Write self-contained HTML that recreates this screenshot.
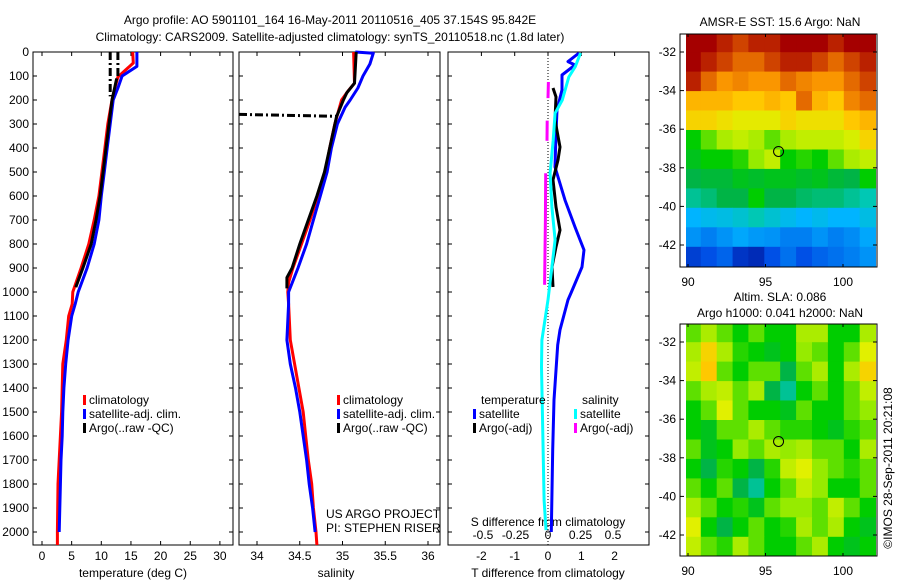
<!DOCTYPE html>
<html><head><meta charset="utf-8">
<style>
html,body{margin:0;padding:0;background:#fff;}
svg{display:block;font-family:"Liberation Sans",sans-serif;}
text{font-size:12px;fill:#000;}
</style></head>
<body>
<svg id="fig" width="900" height="580" viewBox="0 0 900 580" xmlns="http://www.w3.org/2000/svg">
<text x="330" y="24" text-anchor="middle">Argo profile: AO 5901101_164 16-May-2011 20110516_405 37.154S 95.842E</text>
<text x="330" y="41" text-anchor="middle">Climatology: CARS2009. Satellite-adjusted climatology: synTS_20110518.nc (1.8d later)</text>
<g id="g"></g>
</svg>
<script>
// ---------- data ----------
const depthTicks=[0,100,200,300,400,500,600,700,800,900,1000,1100,1200,1300,1400,1500,1600,1700,1800,1900,2000];
const tempTicks=[0,5,10,15,20,25,30];
const salTicks=[34,34.5,35,35.5,36];
const salTickLabels=["34","34.5","35","35.5","36"];
const tdTicks=[-2,-1,0,1,2];
const sdTicks=[-0.5,-0.25,0,0.25,0.5];
const sdTickLabels=["-0.5","-0.25","0","0.25","0.5"];

const tClimDepth=[0,46,104,150,200,300,400,500,600,700,800,900,1000,1050,1100,1200,1300,1400,1500,1600,1700,1800,2000,2054];
const tClimVal=[15.3,15.4,12.8,12.3,11.8,11.1,10.6,10.1,9.6,8.8,7.9,6.6,5.2,5.1,4.5,4.1,3.5,3.4,3.3,3.1,2.9,2.7,2.6,2.6];
const tSatDepth=[0,60,100,150,200,300,400,500,600,700,800,900,1000,1050,1100,1200,1300,1400,1500,1600,1700,1800,2000];
const tSatVal=[16.0,16.0,13.5,12.8,12.0,11.5,11.0,10.5,10.0,9.6,8.8,7.6,6.1,5.6,5.0,4.4,4.0,3.7,3.5,3.4,3.2,3.1,2.9];
const tArgoDepth=[110,200,300,400,500,600,700,800,900,980];
const tArgoVal=[12.6,11.8,11.3,10.8,10.3,9.8,9.1,8.3,6.9,5.7];
const tRawADepth=[0,185];const tRawAVal=[11.5,11.5];
const tRawBDepth=[0,100];const tRawBVal=[12.8,12.8];

const sClimDepth=[0,130,160,200,250,300,400,500,600,700,800,900,960,1000,1050,1200,1300,1400,1500,1600,1700,1800,1900,2000,2054];
const sClimVal=[35.13,35.14,35.07,34.99,34.95,34.91,34.85,34.80,34.71,34.62,34.52,34.42,34.37,34.36,34.37,34.39,34.44,34.49,34.54,34.57,34.60,34.64,34.66,34.69,34.70];
const sSatDepth=[0,5,50,100,150,200,230,300,400,500,600,700,800,900,1000,1050,1200,1300,1400,1500,1600,1700,1800,1900,2000];
const sSatVal=[35.15,35.36,35.32,35.24,35.18,35.09,35.03,34.94,34.87,34.82,34.74,34.66,34.58,34.48,34.37,34.37,34.35,34.39,34.45,34.50,34.54,34.58,34.61,34.65,34.68];
const sArgoDepth=[0,130,170,200,270,400,500,600,700,800,900,940,985];
const sArgoVal=[35.16,35.14,35.05,35.01,34.93,34.85,34.79,34.70,34.60,34.50,34.41,34.35,34.35];
const sRawDepth=[260,268];const sRawVal=[33.79,34.93];

const dTSatDepth=[4,40,54,96,158,242,338,479,617,729,825,896,1004,1033,1158,1221,1450,1658,2000];
const dTSatVal=[0.93,0.6,0.81,0.42,0.42,0.27,0.24,0.21,0.51,0.81,1.08,1.02,0.69,0.6,0.36,0.29,0.18,0.14,0.1];
const dTArgoDepth=[150,187,283,396,450,533,646,742,812,896,979];
const dTArgoVal=[0.15,0.24,0.21,0.36,0.3,0.15,0.24,0.36,0.24,0.12,0.15];
const dSSatDepth=[4,61,104,200,255,367,505,646,783,896,1033,1200,1313,1588,1867,1992];
const dSSatVal=[0.25,0.21,0.16,0.11,0.055,0.04,0.016,0.03,0.055,0.03,0,-0.047,-0.05,-0.04,-0.03,-0.015];
const dSArgoDepth=[125,192,null,286,370,null,505,700,970];
const dSArgoVal=[0.003,0.0,null,-0.006,-0.008,null,-0.018,-0.02,-0.026];

const lonTicks=[90,95,100];
const latTicks=[-32,-34,-36,-38,-40,-42];
const sstGrid=[
[1,1,.95,.9,.95,.95,1,1,1,.95,1,1],
[1,.95,.9,.85,.85,.9,.95,.95,.9,.85,.9,.95],
[.95,.85,.8,.82,.8,.8,.85,.82,.8,.8,.85,.9],
[.75,.75,.75,.72,.72,.75,.72,.85,.75,.72,.82,.85],
[.7,.7,.68,.66,.66,.66,.7,.68,.68,.68,.72,.75],
[.5,.55,.6,.62,.6,.55,.6,.62,.62,.62,.64,.7],
[.48,.5,.5,.52,.58,.62,.5,.52,.5,.55,.6,.62],
[.45,.46,.46,.48,.47,.48,.48,.47,.48,.46,.45,.5],
[.4,.42,.45,.45,.5,.45,.45,.43,.42,.42,.4,.38],
[.3,.32,.33,.35,.38,.35,.32,.3,.32,.3,.3,.33],
[.25,.22,.25,.28,.26,.25,.22,.22,.25,.22,.24,.28],
[.12,.15,.18,.1,.08,.15,.2,.15,.18,.2,.22,.25]];
const slaGrid=[
[.55,.6,.55,.5,.55,.5,.5,.6,.6,.5,.5,.6],
[.6,.7,.6,.52,.5,.48,.5,.58,.55,.5,.55,.65],
[.62,.72,.55,.5,.55,.55,.45,.55,.6,.5,.6,.7],
[.55,.6,.62,.55,.6,.45,.4,.5,.55,.5,.55,.62],
[.5,.55,.65,.55,.5,.5,.48,.55,.5,.5,.55,.58],
[.5,.48,.55,.55,.6,.55,.52,.52,.5,.48,.52,.55],
[.55,.48,.5,.58,.55,.6,.58,.6,.55,.55,.5,.6],
[.5,.45,.52,.5,.45,.52,.62,.65,.58,.55,.52,.55],
[.55,.5,.55,.45,.4,.5,.55,.62,.58,.5,.5,.55],
[.6,.55,.5,.52,.48,.55,.58,.58,.55,.62,.55,.5],
[.65,.5,.45,.5,.55,.5,.52,.6,.55,.6,.5,.48],
[.62,.55,.52,.6,.55,.5,.5,.55,.6,.5,.48,.5]];
const floatLon=95.842, floatLat=-37.154;

// ---------- helpers ----------
const NS="http://www.w3.org/2000/svg";
const G=document.getElementById('g');
function mk(tag,attrs,parent){const e=document.createElementNS(NS,tag);for(const k in attrs)e.setAttribute(k,attrs[k]);(parent||G).appendChild(e);return e;}
function txt(x,y,s,anchor,name,size){const t=mk('text',{x:x,y:y,'text-anchor':anchor||'start'});if(size)t.style.fontSize=size+'px';t.textContent=s;


return t;}
const T=52,B=545;
const yD=d=>T+d*0.24;
const xT=v=>42+v*5.93;
const xS=v=>257+(v-34)*85.5;
const xDT=v=>548+v*33.3;
const xDS=v=>548+v*130;

function frame(x0,x1,name){const r=mk('rect',{x:x0,y:T,width:x1-x0,height:B-T,fill:'#fff',stroke:'#000','stroke-width':1});


depthTicks.forEach(d=>{mk('line',{x1:x0,x2:x0+4,y1:yD(d),y2:yD(d),stroke:'#000'});mk('line',{x1:x1-4,x2:x1,y1:yD(d),y2:yD(d),stroke:'#000'});});}
function xticks(vals,labels,fx,name,top,bottom,ly){vals.forEach((v,i)=>{const x=fx(v);
if(top)mk('line',{x1:x,x2:x,y1:T,y2:T+4,stroke:'#000'});
if(bottom)mk('line',{x1:x,x2:x,y1:B-4,y2:B,stroke:'#000'});
txt(x,ly,labels[i],'middle',name);});}
function line(depths,vals,fx,color,w,name,dash){let d='';let pen=false;
for(let i=0;i<depths.length;i++){if(depths[i]===null){pen=false;continue;}d+=(pen?'L':'M')+fx(vals[i]).toFixed(1)+' '+yD(depths[i]).toFixed(1);pen=true;}
const p=mk('path',{d:d,fill:'none',stroke:color,'stroke-width':w,'stroke-linejoin':'round'});if(dash)p.setAttribute('stroke-dasharray',dash);


return p;}
function legend(x,y,color,label,name){mk('rect',{x:x,y:y-9,width:3,height:10,fill:color});txt(x+6,y,label,'start',name);}

// ---------- panel 1: temperature ----------
frame(33,233,'temperature-panel');
depthTicks.forEach(d=>txt(29,yD(d)+4,String(d),'end','depth-tick-label'));
xticks(tempTicks,tempTicks.map(String),xT,'temperature-tick-label',true,true,560);
txt(133,577,'temperature (deg C)','middle','temperature-axis-title');
line(tClimDepth,tClimVal,xT,'#f00',3,'temperature-climatology-line');
line(tSatDepth,tSatVal,xT,'#00f',3,'temperature-satellite-line');
line(tArgoDepth,tArgoVal,xT,'#000',3,'temperature-argo-line');
line(tRawADepth,tRawAVal,xT,'#000',3,'temperature-argo-raw-line-a','8 3 2 3');
line(tRawBDepth,tRawBVal,xT,'#000',3,'temperature-argo-raw-line-b','8 3 2 3');
legend(83,404,'#f00','climatology','legend-climatology');
legend(83,418,'#00f','satellite-adj. clim.','legend-satellite');
legend(83,432,'#000','Argo(..raw -QC)','legend-argo');

// ---------- panel 2: salinity ----------
frame(239,440,'salinity-panel');
xticks(salTicks,salTickLabels,xS,'salinity-tick-label',true,true,560);
txt(336,577,'salinity','middle','salinity-axis-title');
line(sClimDepth,sClimVal,xS,'#f00',3,'salinity-climatology-line');
line(sSatDepth,sSatVal,xS,'#00f',3,'salinity-satellite-line');
line(sArgoDepth,sArgoVal,xS,'#000',3,'salinity-argo-line');
line(sRawDepth,sRawVal,xS,'#000',3,'salinity-argo-raw-line','8 3 2 3');
legend(337,404,'#f00','climatology','legend-climatology-2');
legend(337,418,'#00f','satellite-adj. clim.','legend-satellite-2');
legend(337,432,'#000','Argo(..raw -QC)','legend-argo-2');
txt(326,518,'US ARGO PROJECT','start','project-credit');
txt(326,532,'PI: STEPHEN RISER','start','pi-credit');

// ---------- panel 3: differences ----------
frame(448,649,'difference-panel');
xticks(tdTicks,tdTicks.map(String),xDT,'t-difference-tick-label',true,false,560);
sdTicks.forEach((v,i)=>txt(xDS(v),539,sdTickLabels[i],'middle','s-difference-tick-label'));
txt(548,526,'S difference from climatology','middle','s-difference-axis-title');
txt(548,577,'T difference from climatology','middle','t-difference-axis-title');
mk('line',{x1:xDT(0),x2:xDT(0),y1:T,y2:B,stroke:'#000','stroke-dasharray':'1 2'});
line(dTSatDepth,dTSatVal,xDT,'#00f',3,'t-diff-satellite-line');
line(dTArgoDepth,dTArgoVal,xDT,'#000',3,'t-diff-argo-line');
line(dSSatDepth,dSSatVal,xDS,'#0ff',3,'s-diff-satellite-line');
line(dSArgoDepth,dSArgoVal,xDS,'#f0f',3,'s-diff-argo-line');
txt(481,404,'temperature','start','legend-temperature-header');
txt(582,404,'salinity','start','legend-salinity-header');
legend(473,418,'#00f','satellite','legend-t-satellite');
legend(473,432,'#000','Argo(-adj)','legend-t-argo');
legend(574,418,'#0ff','satellite','legend-s-satellite');
legend(574,432,'#f0f','Argo(-adj)','legend-s-argo');

// ---------- maps ----------
const cmapStops=[0,.15,.3,.38,.45,.5,.58,.65,.72,.8,.88,1];
const cmapColors=[[0,0,130],[0,80,230],[0,180,255],[0,200,180],[0,180,70],[0,205,0],[150,235,0],[225,240,0],[255,200,0],[250,150,0],[215,80,0],[165,0,0]];
function cmap(v){let i=0;while(i<cmapStops.length-2&&v>cmapStops[i+1])i++;
 const t=Math.max(0,Math.min(1,(v-cmapStops[i])/(cmapStops[i+1]-cmapStops[i])));
 const a=cmapColors[i],b=cmapColors[i+1];
 return 'rgb('+a.map((c,k)=>Math.round(c+(b[k]-c)*t)).join(',')+')';}
const lonX=l=>688+(l-90)*15.5;
function map(grid,top,bottom,lat32y,name,clipId){
 const latY=l=>lat32y+(-32-l)*19.3;
 const cp=mk('clipPath',{id:clipId});mk('rect',{x:686,y:top,width:190,height:bottom-top},cp);
 const g=mk('g',{'clip-path':'url(#'+clipId+')'});
 
 
 const lon0=89.8;const dLon=12.3/grid[0].length,dLat=12.1/grid.length;
 grid.forEach((row,r)=>row.forEach((v,c)=>{const x0=lonX(lon0+c*dLon),x1=lonX(lon0+(c+1)*dLon);const y0=latY(-31.0-r*dLat),y1=latY(-31.0-(r+1)*dLat);
  const cell=mk('rect',{x:x0.toFixed(1),y:y0.toFixed(1),width:(x1-x0+0.5).toFixed(1),height:(y1-y0+0.5).toFixed(1),fill:cmap(v)},g);
  
  
 }));
 const fr=mk('rect',{x:680,y:top,width:197,height:bottom-top,fill:'none',stroke:'#000'});
 
 
 latTicks.forEach(l=>{const y=latY(l);mk('line',{x1:680,x2:684,y1:y,y2:y,stroke:'#000'});mk('line',{x1:873,x2:877,y1:y,y2:y,stroke:'#000'});txt(676,y+4,String(l),'end','latitude-tick-label');});
 lonTicks.forEach(l=>{const x=lonX(l);mk('line',{x1:x,x2:x,y1:top,y2:top+3,stroke:'#000'});mk('line',{x1:x,x2:x,y1:bottom-3,y2:bottom,stroke:'#000'});txt(x,bottom+19,String(l),'middle','longitude-tick-label');});
 const c=mk('circle',{cx:lonX(floatLon),cy:latY(floatLat),r:5,fill:'none',stroke:'#000','stroke-width':1});
 
 
}
map(sstGrid,34,267,52,'sst-map','clip1');
txt(780,26,'AMSR-E SST: 15.6 Argo: NaN','middle','sst-map-title');
map(slaGrid,324,556,342,'sla-map','clip2');
txt(780,301,'Altim. SLA: 0.086','middle','sla-map-title-1');
txt(780,317,'Argo h1000: 0.041 h2000: NaN','middle','sla-map-title-2');
const cr=txt(0,0,'\u00a9IMOS 28-Sep-2011 20:21:08','middle','imos-credit');
cr.setAttribute('transform','translate(892,468) rotate(-90)');
</script>
</body></html>
